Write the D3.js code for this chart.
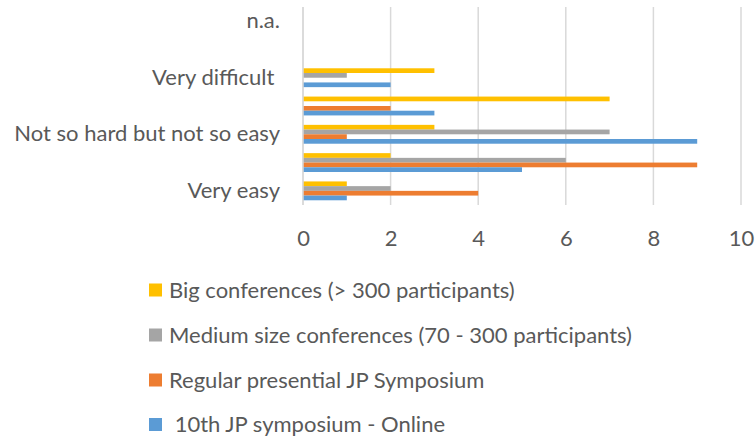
<!DOCTYPE html>
<html>
<head>
<meta charset="utf-8">
<script src="https://cdn.jsdelivr.net/npm/d3@7"></script>
<style>
  html, body { margin: 0; padding: 0; background: #fff; }
  svg { display: block; }
  text { font-family: Lato, "Open Sans", sans-serif; fill: #595959; white-space: pre; }
</style>
</head>
<body>
<svg id="chart" width="756" height="436"></svg>
<script>
// Categories, bottom to top
const categories = ["Very easy", "Easy", "Not so hard but not so easy", "Difficult", "Very difficult ", "Extremely difficult", "n.a."];
const shownLabels = ["Very easy", "Not so hard but not so easy", "Very difficult ", "n.a."];

// Series values (same order as categories)
const online10th = [1, 5, 9, 3, 2, 0, 0];
const regularJP  = [4, 9, 1, 2, 0, 0, 0];
const mediumConf = [2, 6, 7, 0, 1, 0, 0];
const bigConf    = [1, 2, 3, 7, 3, 0, 0];

const seriesNames = [
  "Big conferences (> 300 participants)",
  "Medium size conferences (70 - 300 participants)",
  "Regular presential JP Symposium",
  " 10th JP symposium - Online"
];
const seriesColors = ["#FFC000", "#A5A5A5", "#ED7D31", "#5B9BD5"];
const seriesValues = [bigConf, mediumConf, regularJP, online10th];

const xTicks = [0, 2, 4, 6, 8, 10];
const FS = 22;

const svg = d3.select("#chart");

const x = d3.scaleLinear().domain([0, 10]).range([303, 741]);
const y = d3.scaleBand().domain(categories).range([205, 7]).paddingInner(0).paddingOuter(0);
// within each band: 4 bars occupying the middle 4/6 (gap width 200%)
const inner = d3.scaleBand().domain(d3.range(seriesNames.length))
  .range([y.bandwidth() / 6, y.bandwidth() * 5 / 6]);

// gridlines
svg.append("g").selectAll("line").data(xTicks).join("line")
  .attr("x1", d => x(d)).attr("x2", d => x(d))
  .attr("y1", 7).attr("y2", 205)
  .attr("stroke", "#D9D9D9").attr("stroke-width", 1.5);

// bars
const groups = svg.append("g").selectAll("g").data(categories).join("g")
  .attr("transform", c => `translate(0,${y(c)})`);

groups.each(function(c, ci) {
  d3.select(this).selectAll("rect")
    .data(seriesValues.map((vals, si) => ({ v: vals[ci], si })))
    .join("rect")
    .attr("x", x(0))
    .attr("y", d => inner(d.si))
    .attr("width", d => x(d.v) - x(0))
    .attr("height", inner.bandwidth())
    .attr("fill", d => seriesColors[d.si]);
});

// vertical axis line (category axis)
svg.append("line")
  .attr("x1", x(0)).attr("x2", x(0)).attr("y1", 7).attr("y2", 205)
  .attr("stroke", "#D9D9D9").attr("stroke-width", 1.5);

// x axis tick labels
const xAxis = d3.axisBottom(x).tickValues(xTicks).tickSize(0).tickPadding(0);
const xg = svg.append("g").attr("transform", "translate(0,229)").call(xAxis);
xg.select(".domain").remove();
xg.selectAll("text").attr("font-size", FS).attr("dy", "0.75em")
  .style("font-family", "Lato, 'Open Sans', sans-serif").attr("fill", "#595959");

// y axis category labels (every other)
const yAxis = d3.axisLeft(y).tickValues(shownLabels).tickSize(0).tickPadding(23);
const yg = svg.append("g").attr("transform", `translate(${x(0)},0)`).call(yAxis);
yg.select(".domain").remove();
yg.selectAll("text").attr("font-size", FS).style("white-space", "pre")
  .style("font-family", "Lato, 'Open Sans', sans-serif").attr("fill", "#595959");

// legend
const legendY = [290, 335, 380, 424.5];
const lg = svg.append("g").selectAll("g").data(seriesNames).join("g")
  .attr("transform", (d, i) => `translate(149,${legendY[i]})`);
lg.append("rect").attr("x", 0).attr("y", -6.5).attr("width", 13).attr("height", 13)
  .attr("fill", (d, i) => seriesColors[i]);
lg.append("text").attr("x", 20).attr("y", 0).attr("dy", "0.36em")
  .attr("font-size", FS).style("white-space", "pre")
  .text(d => d);
</script>
</body>
</html>
